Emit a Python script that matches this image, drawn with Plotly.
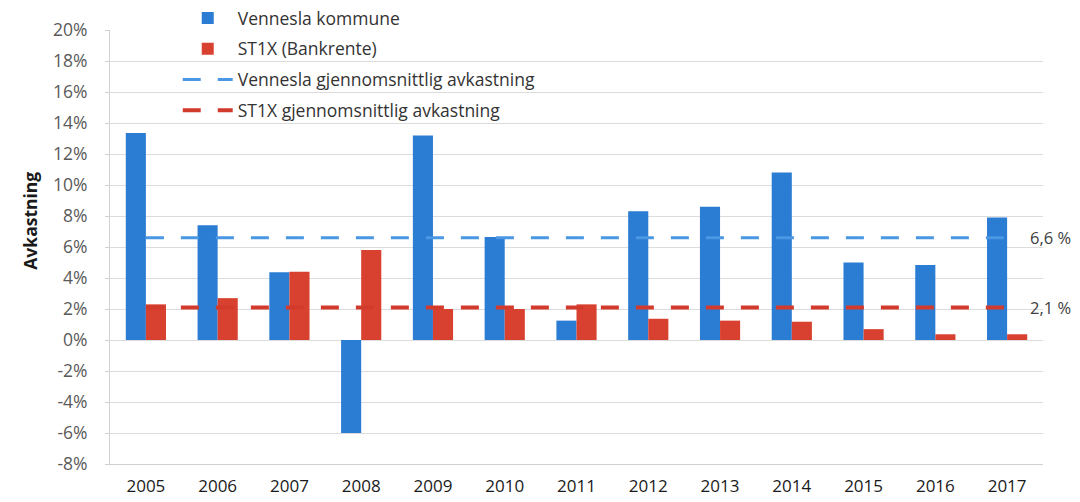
import plotly.graph_objects as go

years = ["2005", "2006", "2007", "2008", "2009", "2010", "2011",
         "2012", "2013", "2014", "2015", "2016", "2017"]
vennesla = [13.35, 7.4, 4.37, -6.0, 13.2, 6.65, 1.25, 8.3, 8.6, 10.8, 5.0, 4.84, 7.9]
st1x = [2.3, 2.7, 4.4, 5.8, 2.0, 2.0, 2.3, 1.37, 1.25, 1.18, 0.7, 0.37, 0.37]
vennesla_avg = 6.6
st1x_avg = 2.1
ytick_vals = [-8, -6, -4, -2, 0, 2, 4, 6, 8, 10, 12, 14, 16, 18, 20]
ytick_text = ["-8%", "-6%", "-4%", "-2%", "0%", "2%", "4%", "6%", "8%",
              "10%", "12%", "14%", "16%", "18%", "20%"]

BLUE = "#2b7cd3"
RED = "#d8412f"
FONT = "Open Sans"

fig = go.Figure()
fig.add_trace(go.Bar(x=years, y=vennesla, name="Vennesla kommune",
                     marker=dict(color=BLUE, line=dict(width=0)), legendgroup="a"))
fig.add_trace(go.Bar(x=years, y=st1x, name="ST1X (Bankrente)",
                     marker=dict(color=RED, line=dict(width=0)), legendgroup="b"))
fig.add_trace(go.Scatter(x=years, y=[vennesla_avg] * len(years), mode="lines",
                         name="Vennesla gjennomsnittlig avkastning",
                         line=dict(color="#4a97e3", width=3, dash="18px,17px"),
                         legendgroup="c"))
fig.add_trace(go.Scatter(x=years, y=[st1x_avg] * len(years), mode="lines",
                         name="ST1X gjennomsnittlig avkastning",
                         line=dict(color="#d23a2c", width=4, dash="18px,17px"),
                         legendgroup="d"))

fig.add_annotation(xref="paper", yref="y", x=0.984, y=vennesla_avg,
                   text="6,6 %", showarrow=False, xanchor="left",
                   font=dict(family=FONT, size=16.5, color="#404040"))
fig.add_annotation(xref="paper", yref="y", x=0.984, y=st1x_avg,
                   text="2,1 %", showarrow=False, xanchor="left",
                   font=dict(family=FONT, size=16.5, color="#404040"))
fig.add_annotation(xref="paper", yref="paper", x=-0.086, y=0.56,
                   text="<b>Avkastning</b>", showarrow=False, textangle=-90,
                   xanchor="center", yanchor="middle",
                   font=dict(family=FONT, size=17.5, color="#1a1a1a"))

fig.update_layout(
    width=1080, height=502,
    margin=dict(l=110, r=37, t=30, b=38, autoexpand=False),
    paper_bgcolor="white", plot_bgcolor="white",
    font=dict(family=FONT, color="#333333"),
    barmode="group", bargap=0.44, bargroupgap=0,
    showlegend=True,
    legend=dict(x=0.0726, xref="paper", y=1.0, yref="container",
                xanchor="left", yanchor="top",
                bgcolor="rgba(0,0,0,0)", font=dict(family=FONT, size=17.5, color="#333333"),
                traceorder="grouped", tracegroupgap=5, itemwidth=50),
)
fig.update_xaxes(showgrid=False, showline=True, linecolor="#d0d0d0", linewidth=1,
                 tickfont=dict(family=FONT, size=17, color="#1a1a1a"),
                 ticks="", ticklabelstandoff=7, automargin=False)
fig.update_yaxes(range=[-8, 20], tickvals=ytick_vals, ticktext=ytick_text,
                 showgrid=True, gridcolor="#dcdcdc", gridwidth=1,
                 showline=True, linecolor="#d0d0d0", linewidth=1,
                 zeroline=False, automargin=False,
                 ticks="outside", ticklen=4, tickcolor="#d0d0d0",
                 tickfont=dict(family=FONT, size=17.5, color="#5a5a5a"),
                 ticklabelstandoff=14)

fig.write_html("out.html", config={"displayModeBar": False},
               post_script="document.body.style.margin='0';document.body.style.overflow='hidden';")
